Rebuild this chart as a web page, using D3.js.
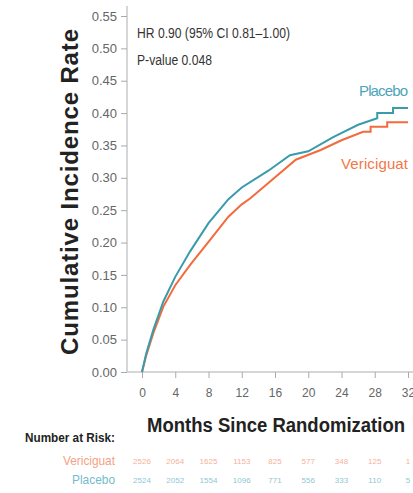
<!DOCTYPE html>
<html>
<head>
<meta charset="utf-8">
<script src="https://cdn.jsdelivr.net/npm/d3@7"></script>
<style>
  body { margin: 0; background: #fff; }
</style>
</head>
<body>
<div id="km_chart"></div>
<script>
// curve readings (months, cumulative incidence)
var placeboMonths = [0, 0.5, 1.36, 2.57, 4, 5.77, 8, 10.4, 12, 15.2, 17.8, 20, 23, 26, 28.3, 28.3, 30.2, 30.2, 32];
var placeboValues = [0, 0.028, 0.065, 0.109, 0.147, 0.186, 0.230, 0.267, 0.285, 0.311, 0.335, 0.341, 0.363, 0.382, 0.392, 0.400, 0.400, 0.408, 0.408];

var vericiguatMonths = [0, 0.5, 1.36, 2.57, 4, 5.77, 8, 10.4, 12, 13, 15.2, 18.5, 21.5, 24, 26.6, 27.5, 27.5, 29.5, 29.5, 32];
var vericiguatValues = [0, 0.025, 0.060, 0.101, 0.134, 0.165, 0.201, 0.240, 0.259, 0.268, 0.292, 0.328, 0.343, 0.358, 0.371, 0.371, 0.379, 0.379, 0.386, 0.386];

var xTicks = [0, 4, 8, 12, 16, 20, 24, 28, 32];
var yTicks = [0, 0.05, 0.10, 0.15, 0.20, 0.25, 0.30, 0.35, 0.40, 0.45, 0.50, 0.55];

var riskVericiguat = [2526, 2064, 1625, 1153, 825, 577, 348, 125, 1];
var riskPlacebo = [2524, 2052, 1554, 1096, 771, 556, 333, 110, 5];

var hrText = "HR 0.90 (95% CI 0.81\u20131.00)";
var pText = "P-value 0.048";

km(placeboMonths, placeboValues, vericiguatMonths, vericiguatValues);

function km(pm, pv, vm, vv) {
  var width = 413;
  var height = 493;
  var font = "'Liberation Sans', Arial, sans-serif";
  var teal = "#3a9bab";
  var orange = "#f26b3c";

  var svg = d3.select("#km_chart")
    .append("svg")
    .attr("width", width)
    .attr("height", height)
    .style("font-family", font);

  var x = d3.scaleLinear()
    .domain([0, 32])
    .range([142, 408]);

  var y = d3.scaleLinear()
    .domain([0, 0.55])
    .range([372, 16]);

  // axis lines
  svg.append("line")
    .attr("x1", 127).attr("x2", 127)
    .attr("y1", 6).attr("y2", 372)
    .style("stroke", "#c8c8c8")
    .style("stroke-width", 1.5);

  svg.append("line")
    .attr("x1", 127).attr("x2", width)
    .attr("y1", 372).attr("y2", 372)
    .style("stroke", "#c8c8c8")
    .style("stroke-width", 1.5);

  var yAxis = svg.append("g")
    .attr("transform", "translate(127,0)")
    .call(d3.axisLeft(y).tickValues(yTicks).tickSize(6).tickPadding(4).tickFormat(d3.format(".2f")));

  var xAxis = svg.append("g")
    .attr("transform", "translate(0,372)")
    .call(d3.axisBottom(x).tickValues(xTicks).tickSize(6).tickPadding(10));

  [yAxis, xAxis].forEach(function(a) {
    a.select(".domain").remove();
    a.selectAll(".tick line").style("stroke", "#aaa");
    a.selectAll(".tick text")
      .style("font-family", font)
      .style("fill", "#666");
  });
  yAxis.selectAll(".tick text").style("font-size", "13px");
  xAxis.selectAll(".tick text").style("font-size", "12px");

  var line = d3.line()
    .x(function(d) { return x(d[0]); })
    .y(function(d) { return y(d[1]); });

  svg.append("path")
    .datum(d3.zip(vm, vv))
    .attr("fill", "none")
    .attr("stroke", orange)
    .attr("stroke-width", 2)
    .attr("d", line);

  svg.append("path")
    .datum(d3.zip(pm, pv))
    .attr("fill", "none")
    .attr("stroke", teal)
    .attr("stroke-width", 2)
    .attr("d", line);

  // HR annotation
  svg.append("text")
    .attr("x", 137).attr("y", 38)
    .attr("fill", "#333")
    .style("font-size", "14px")
    .attr("textLength", 153)
    .attr("lengthAdjust", "spacingAndGlyphs")
    .text(hrText);

  svg.append("text")
    .attr("x", 137).attr("y", 65)
    .attr("fill", "#333")
    .style("font-size", "14px")
    .attr("textLength", 75)
    .attr("lengthAdjust", "spacingAndGlyphs")
    .text(pText);

  // series labels
  svg.append("text")
    .attr("x", 408).attr("y", 96)
    .attr("fill", "#4ba5b9")
    .style("text-anchor", "end")
    .style("font-size", "15px")
    .attr("textLength", 49)
    .text("Placebo");

  svg.append("text")
    .attr("x", 408).attr("y", 169)
    .attr("fill", "#f27849")
    .style("text-anchor", "end")
    .style("font-size", "15px")
    .attr("textLength", 67)
    .text("Vericiguat");

  // axis titles
  svg.append("text")
    .attr("transform", "translate(78,192) rotate(-90)")
    .style("text-anchor", "middle")
    .style("font-weight", "bold")
    .style("font-size", "24px")
    .attr("textLength", 326)
    .attr("fill", "#222")
    .text("Cumulative Incidence Rate");

  svg.append("text")
    .attr("x", 276).attr("y", 432)
    .style("text-anchor", "middle")
    .style("font-weight", "bold")
    .style("font-size", "20px")
    .attr("textLength", 258)
    .attr("lengthAdjust", "spacingAndGlyphs")
    .attr("fill", "#222")
    .text("Months Since Randomization");

  // number at risk
  svg.append("text")
    .attr("x", 115).attr("y", 442)
    .style("text-anchor", "end")
    .style("font-weight", "bold")
    .style("font-size", "12px")
    .attr("textLength", 90)
    .attr("lengthAdjust", "spacingAndGlyphs")
    .attr("fill", "#222")
    .text("Number at Risk:");

  svg.append("text")
    .attr("x", 115).attr("y", 465)
    .style("text-anchor", "end")
    .style("font-size", "13px")
    .attr("textLength", 52)
    .attr("lengthAdjust", "spacingAndGlyphs")
    .attr("fill", "#f4a283")
    .text("Vericiguat");

  svg.append("text")
    .attr("x", 115).attr("y", 484)
    .style("text-anchor", "end")
    .style("font-size", "13px")
    .attr("textLength", 43)
    .attr("lengthAdjust", "spacingAndGlyphs")
    .attr("fill", "#74bccb")
    .text("Placebo");

  svg.selectAll("text.risk_v")
    .data(riskVericiguat)
    .enter()
    .append("text")
    .attr("class", "risk_v")
    .attr("x", function(d, i) { return x(xTicks[i]); })
    .attr("y", 464)
    .style("text-anchor", "middle")
    .style("font-size", "8px")
    .attr("fill", "#f6b29a")
    .text(function(d) { return d; });

  svg.selectAll("text.risk_p")
    .data(riskPlacebo)
    .enter()
    .append("text")
    .attr("class", "risk_p")
    .attr("x", function(d, i) { return x(xTicks[i]); })
    .attr("y", 483)
    .style("text-anchor", "middle")
    .style("font-size", "8px")
    .attr("fill", "#8ec8d4")
    .text(function(d) { return d; });
}
</script>
</body>
</html>
